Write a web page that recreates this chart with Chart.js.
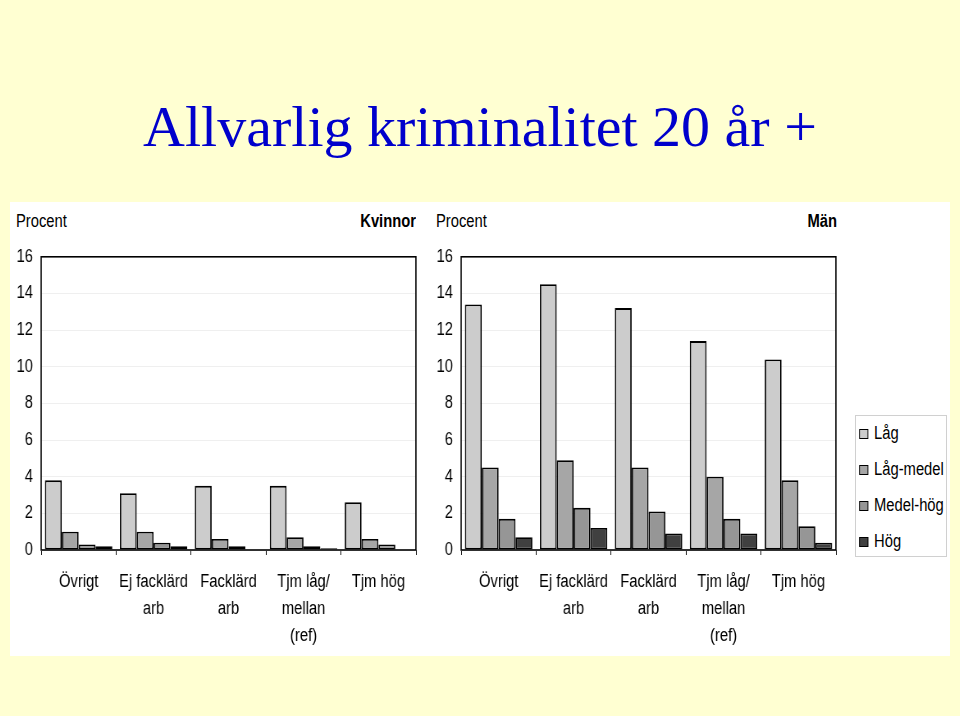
<!DOCTYPE html>
<html>
<head>
<meta charset="utf-8">
<script src="https://cdn.jsdelivr.net/npm/chart.js"></script>
<style>
  body { margin: 0; width: 960px; height: 716px; position: relative; overflow: hidden; background: #ffffd2; }
  .narrow { font-family: 'Liberation Sans', Arial, sans-serif; color: #000; }
  #title { position: absolute; left: 0; top: 92px; width: 960px; text-align: center; font: 58px 'Liberation Serif', 'Times New Roman', serif; color: #0000cc; line-height: 70px; }
  #panel { position: absolute; left: 10px; top: 202px; width: 940px; height: 454px; background: #fff; }
  .lbl { position: absolute; font-size: 18px; line-height: 20px; top: 211px; white-space: nowrap; }
  /* canvases are drawn wide and squeezed, to get the condensed lettering of the original */
  .cv { position: absolute; top: 236px; transform: scaleX(0.82); transform-origin: 0 0; }
  #legend { position: absolute; left: 855px; top: 415px; width: 92px; height: 142px; border: 1px solid #d0d0d0; box-sizing: border-box; background: #fff; }
  #legend .rows { transform: scaleX(0.82); transform-origin: 0 0; width: 110px; font-size: 18px; }
  #legend .rows div { height: 36px; line-height: 34px; position: relative; padding-left: 22px; white-space: nowrap; }
  #legend span { position: absolute; left: 4px; top: 13px; width: 9px; height: 8px; border: 1px solid #000; }
</style>
</head>
<body>
<div id="title">Allvarlig kriminalitet 20 år +</div>
<div id="panel"></div>
<div class="lbl narrow" style="left:16px;transform:scaleX(0.82);transform-origin:0 0">Procent</div>
<div class="lbl narrow" style="left:216px;width:200px;text-align:right;font-weight:bold;transform:scaleX(0.82);transform-origin:100% 0">Kvinnor</div>
<div class="lbl narrow" style="left:436px;transform:scaleX(0.82);transform-origin:0 0">Procent</div>
<div class="lbl narrow" style="left:637px;width:200px;text-align:right;font-weight:bold;transform:scaleX(0.82);transform-origin:100% 0">Män</div>
<canvas id="kvinnor" class="cv" style="left:10px" width="512" height="415"></canvas>
<canvas id="man" class="cv" style="left:430px" width="512" height="415"></canvas>
<div id="legend" class="narrow"><div class="rows"></div></div>
<script>
const categories = [["Övrigt"], ["Ej facklärd", "arb"], ["Facklärd", "arb"], ["Tjm låg/", "mellan", "(ref)"], ["Tjm hög"]];
const seriesNames = ["Låg", "Låg-medel", "Medel-hög", "Hög"];
const seriesColors = ["#cccccc", "#a6a6a6", "#969696", "#404040"];

// Kvinnor, per level
const kvinnorLag = [3.8, 3.1, 3.5, 3.5, 2.6];
const kvinnorLagMedel = [1.0, 1.0, 0.6, 0.7, 0.6];
const kvinnorMedelHog = [0.3, 0.4, 0.2, 0.2, 0.3];
const kvinnorHog = [0.2, 0.2, 0, 0.1, 0];

// Män, per level
const manLag = [13.4, 14.5, 13.2, 11.4, 10.4];
const manLagMedel = [4.5, 4.9, 4.5, 4.0, 3.8];
const manMedelHog = [1.7, 2.3, 2.1, 1.7, 1.3];
const manHog = [0.7, 1.2, 0.9, 0.9, 0.4];

const yTicks = [0, 2, 4, 6, 8, 10, 12, 14, 16];

const fontFamily = "'Liberation Sans', Arial, sans-serif";

// black frame round the plot area
const frame = {
    id: "frame",
    afterDatasetsDraw(chart) {
        const a = chart.chartArea;
        const ctx = chart.ctx;
        ctx.save();
        ctx.strokeStyle = "#000";
        ctx.lineWidth = 1.6;
        ctx.strokeRect(a.left, a.top, a.right - a.left, a.bottom - a.top);
        ctx.restore();
    },
};

function makeChart(id, values) {
    new Chart(document.getElementById(id), {
        type: "bar",
        data: {
            labels: categories,
            datasets: values.map((v, i) => ({
                label: seriesNames[i],
                data: v,
                backgroundColor: seriesColors[i],
                borderColor: "#000",
                borderWidth: 1.8,
                borderSkipped: false,
                barPercentage: 1,
                categoryPercentage: 0.9,
            })),
        },
        options: {
            responsive: false,
            animation: false,
            layout: { padding: { top: 12, right: 17, left: 0, bottom: 0 } },
            plugins: { legend: { display: false }, tooltip: { enabled: false } },
            scales: {
                x: {
                    grid: { offset: true, drawOnChartArea: false, drawTicks: true, tickLength: 5, color: "#000" },
                    border: { display: false },
                    ticks: {
                        color: "#000",
                        font: { family: fontFamily, size: 18, lineHeight: 1.5 },
                        padding: 14,
                        autoSkip: false,
                        maxRotation: 0,
                    },
                    afterFit(scale) { scale.height = 101; },
                },
                y: {
                    min: 0,
                    max: 16,
                    afterBuildTicks(scale) { scale.ticks = yTicks.map((v) => ({ value: v })); },
                    grid: { color: "#efefef", drawTicks: false },
                    border: { display: false },
                    ticks: { color: "#000", font: { family: fontFamily, size: 18 }, padding: 10 },
                    afterFit(scale) { scale.width = 38; },
                },
            },
        },
        plugins: [frame],
    });
}

makeChart("kvinnor", [kvinnorLag, kvinnorLagMedel, kvinnorMedelHog, kvinnorHog]);
makeChart("man", [manLag, manLagMedel, manMedelHog, manHog]);

const legend = document.querySelector("#legend .rows");
seriesNames.forEach((name, i) => {
    const row = document.createElement("div");
    const box = document.createElement("span");
    box.style.background = seriesColors[i];
    row.appendChild(box);
    row.appendChild(document.createTextNode(name));
    legend.appendChild(row);
});
</script>
</body>
</html>
